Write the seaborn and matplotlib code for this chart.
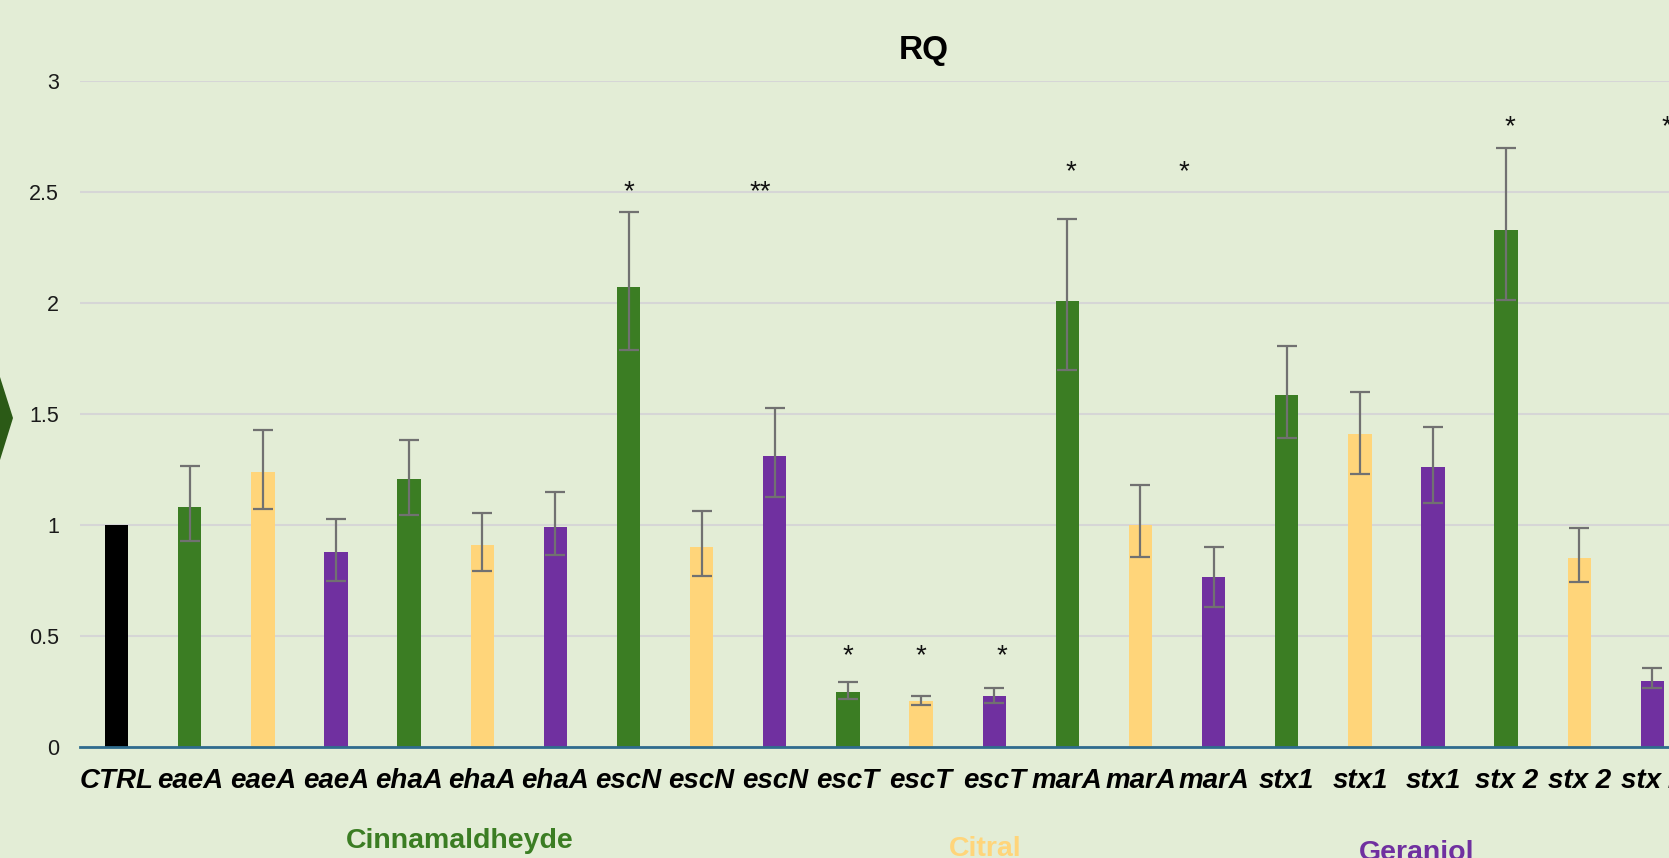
import numpy as np
import pandas as pd
import seaborn as sns
import matplotlib.pyplot as plt
from matplotlib.patches import Polygon

# Relative quantification (RQ) of virulence genes per treatment
genes = ["CTRL", "eaeA", "eaeA", "eaeA", "ehaA", "ehaA", "ehaA",
         "escN", "escN", "escN", "escT", "escT", "escT",
         "marA", "marA", "marA", "stx1", "stx1", "stx1",
         "stx 2", "stx 2", "stx 2"]
treatments = ["Control"] + ["Cinnamaldheyde", "Citral", "Geraniol"] * 7
rq = [1.00, 1.08, 1.24, 0.877, 1.207, 0.91, 0.99,
      2.07, 0.90, 1.313, 0.25, 0.206, 0.23,
      2.008, 1.00, 0.767, 1.586, 1.409, 1.26,
      2.329, 0.853, 0.297]
err_high = [np.nan, 1.265, 1.43, 1.025, 1.385, 1.054, 1.15,
            2.41, 1.064, 1.528, 0.292, 0.23, 0.264,
            2.377, 1.18, 0.90, 1.806, 1.60, 1.44,
            2.698, 0.987, 0.355]
err_low = [np.nan, 0.93, 1.07, 0.75, 1.045, 0.795, 0.867,
           1.787, 0.771, 1.126, 0.216, 0.187, 0.20,
           1.70, 0.857, 0.632, 1.394, 1.23, 1.097,
           2.012, 0.743, 0.268]

# Significance marks: (text, category position, height)
sig_marks = [("*", 7.0, 2.50), ("**", 8.8, 2.50),
             ("*", 10.0, 0.41), ("*", 11.0, 0.41), ("*", 12.1, 0.41),
             ("*", 13.05, 2.59), ("*", 14.6, 2.59),
             ("*", 19.05, 2.79), ("*", 21.2, 2.79)]

group_names = ["Cinnamaldheyde", "Citral", "Geraniol"]

palette = {"Control": "#000000", "Cinnamaldheyde": "#3B7D23",
           "Citral": "#FFD57A", "Geraniol": "#7030A0"}
bg = "#E3EDD6"

df = pd.DataFrame({"pos": [str(i) for i in range(len(genes))],
                   "gene": genes, "treatment": treatments, "rq": rq})

sns.set_theme(style="white")
plt.rcParams["font.family"] = ["Liberation Sans", "DejaVu Sans"]

fig = plt.figure(figsize=(16.69, 8.58), dpi=100, facecolor=bg)
ax = fig.add_axes([80 / 1669, 111 / 858, 1609 / 1669, 666 / 858])
ax.set_facecolor(bg)

sns.barplot(data=df, x="pos", y="rq", hue="treatment", palette=palette,
            order=df["pos"].tolist(), dodge=False, width=0.32,
            saturation=1, legend=False, ax=ax, edgecolor="none",
            linewidth=0, zorder=3)

x = np.arange(len(genes))
rq_arr = np.array(rq)
lo = rq_arr - np.array(err_low)
hi = np.array(err_high) - rq_arr
mask = ~np.isnan(lo)
ax.errorbar(x[mask], rq_arr[mask], yerr=[lo[mask], hi[mask]], fmt="none",
            ecolor="#717171", elinewidth=1.6, capsize=7.5, capthick=1.6,
            zorder=4)

for text, xp, yp in sig_marks:
    ax.text(xp, yp, text, ha="center", va="center", fontsize=20,
            color="#111111", zorder=5)

ax.set_xlim(-0.5, len(genes) - 0.5)
ax.set_ylim(0, 3)
ax.set_yticks(np.arange(0, 3.01, 0.5))
ax.set_yticklabels(["0", "0.5", "1", "1.5", "2", "2.5", "3"])
ax.set_xticks(x)
ax.set_xticklabels(genes, fontsize=20, fontweight="bold", style="italic",
                   color="#000000")
ax.tick_params(axis="x", length=0, pad=15)
ax.tick_params(axis="y", length=0, pad=15, labelsize=15.5,
               labelcolor="#1A1A1A")
ax.set_xlabel("")
ax.set_ylabel("")
ax.yaxis.grid(True, color="#D6D6D6", linewidth=1.5, zorder=0)
ax.set_axisbelow(True)
for side in ["top", "right", "left"]:
    ax.spines[side].set_visible(False)
ax.spines["bottom"].set_color("#2F6C8E")
ax.spines["bottom"].set_linewidth(2)
ax.spines["bottom"].set_zorder(6)

fig.text(924 / 1669, 1 - 50 / 858, "RQ", ha="center", va="center",
         fontsize=24, fontweight="bold", color="#000000")

group_x = [460, 985, 1417]
group_y = [841, 849, 853]
for name, gx, gy in zip(group_names, group_x, group_y):
    fig.text(gx / 1669, 1 - gy / 858, name, ha="center", va="center",
             fontsize=20.5, fontweight="bold", color=palette[name])

# Chevron marker on the left margin
chev = Polygon([(0, 1 - 377 / 858), (13 / 1669, 1 - 418 / 858),
                (0, 1 - 460 / 858)], closed=True, transform=fig.transFigure,
               facecolor="#2B5A16", edgecolor="none")
fig.patches.append(chev)

fig.savefig("out.png", dpi=100, facecolor=bg)
